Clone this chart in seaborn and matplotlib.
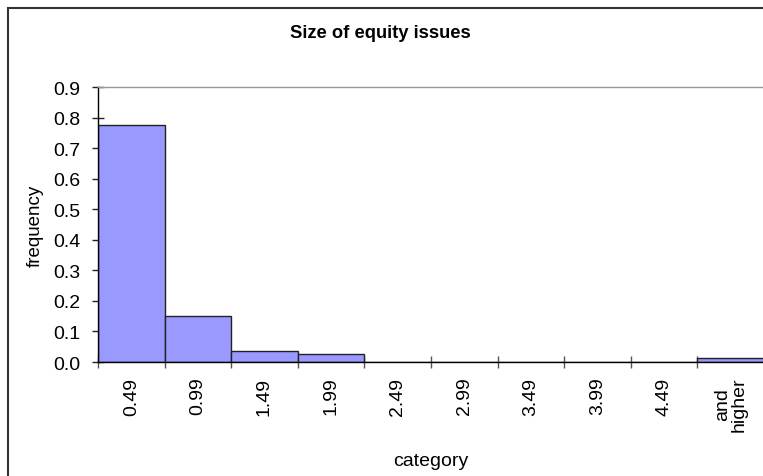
import matplotlib
matplotlib.use("Agg")
import matplotlib.pyplot as plt
import seaborn as sns
import numpy as np
from matplotlib.patches import Rectangle

categories = ["0.49", "0.99", "1.49", "1.99", "2.49", "2.99", "3.49", "3.99", "4.49", "and\nhigher"]
frequency = [0.776, 0.150, 0.037, 0.025, 0.0, 0.0, 0.0, 0.0, 0.0, 0.012]
yticks = [0.0, 0.1, 0.2, 0.3, 0.4, 0.5, 0.6, 0.7, 0.8, 0.9]

sns.set_style("white")
plt.rcParams["font.family"] = ["Liberation Sans", "DejaVu Sans"]
plt.rcParams["text.color"] = "black"
plt.rcParams["xtick.color"] = "black"
plt.rcParams["ytick.color"] = "black"
plt.rcParams["axes.labelcolor"] = "black"

W, H = 763, 477
fig = plt.figure(figsize=(W / 100, H / 100), dpi=100)
ax = fig.add_axes([98 / W, 1 - 363 / H, 666 / W, 275 / H])

sns.barplot(x=categories, y=frequency, ax=ax, width=1.0, color="#9999FF",
            saturation=1, edgecolor="#222222", linewidth=1.0)

ax.set_xlim(-0.5, 9.5)
ax.set_ylim(0, 0.9)
ax.set_yticks(yticks)
ax.set_yticklabels([f"{v:.1f}" for v in yticks], fontsize=14)
ax.set_xticks(range(len(categories)))
ax.set_xticklabels(categories, rotation=90, fontsize=14, linespacing=0.95)
ax.set_xticks(np.arange(-0.5, 9.0, 1.0), minor=True)
ax.tick_params(axis="x", which="major", length=0, pad=10.5, bottom=True)
ax.tick_params(axis="x", which="minor", length=9, direction="inout", width=1,
               color="#555555", bottom=True)
ax.tick_params(axis="y", which="major", length=9, direction="inout", width=1,
               color="#222222", pad=8, left=True)

ax.spines["right"].set_visible(False)
ax.spines["top"].set_color("#999999")
ax.spines["top"].set_linewidth(1)
for s in ["left", "bottom"]:
    ax.spines[s].set_color("black")
    ax.spines[s].set_linewidth(1)

ax.set_ylabel("frequency", fontsize=13.5)
ax.yaxis.label.set_va("center")
ax.yaxis.set_label_coords((35 - 98) / 666, 0.5)
ax.set_xlabel("category", fontsize=14)
ax.xaxis.label.set_va("center")
ax.xaxis.set_label_coords(0.5, (363 - 461) / 275)

fig.text(380 / W, 1 - 33 / H, "Size of equity issues", fontsize=13.2, fontweight="bold",
         ha="center", va="center")

fig.patches.append(Rectangle((8 / W, -0.1), 1.2, 1 - 9 / H + 0.1, transform=fig.transFigure,
                             fill=False, edgecolor="#333333", linewidth=1.5, zorder=0))

fig.savefig("out.png", dpi=100)
